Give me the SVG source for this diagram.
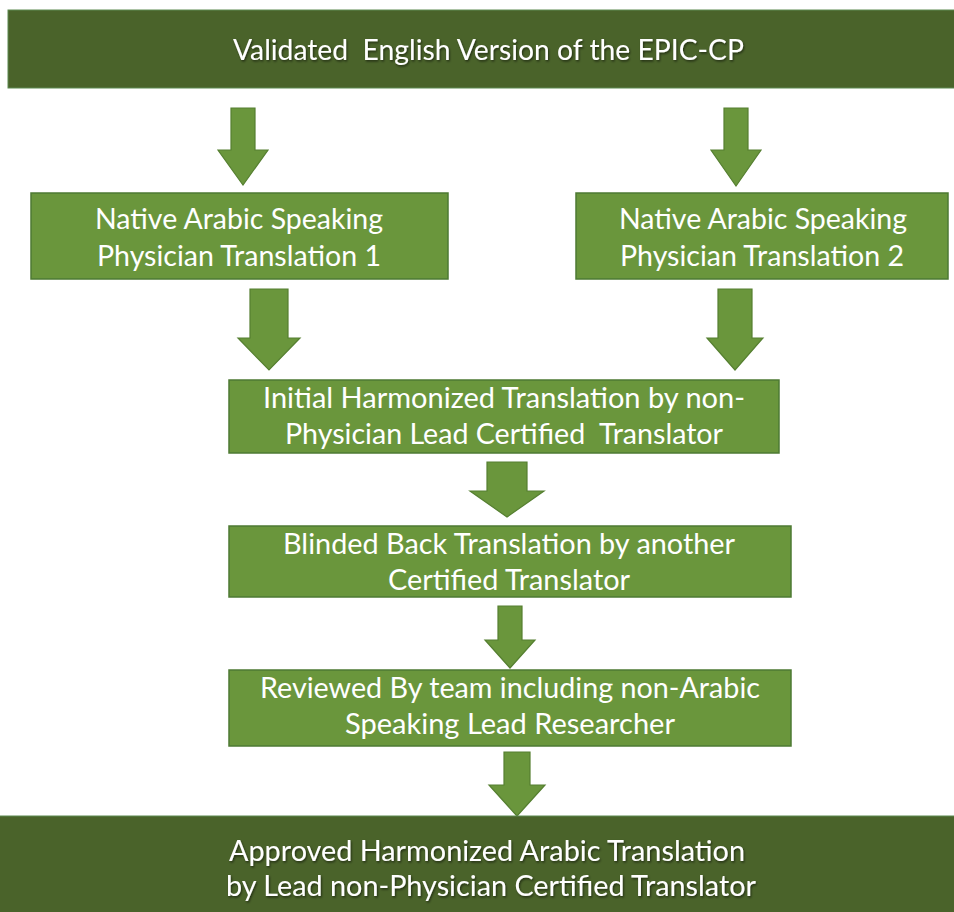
<svg xmlns="http://www.w3.org/2000/svg" width="954" height="912" viewBox="0 0 954 912">
  <defs>
    <filter id="shadow" x="-5%" y="-20%" width="110%" height="140%">
      <feDropShadow dx="1" dy="1.5" stdDeviation="0.8" flood-color="#000" flood-opacity="0.55"/>
    </filter>
  </defs>
  <style>
    .bar { fill: #4a632a; stroke: #5d8a50; stroke-width: 1; }
    .box { fill: #6a963c; stroke: #4d7a33; stroke-width: 1.5; }
    .arrow { fill: #6a963c; stroke: #557f30; stroke-width: 1.2; }
    .t { font-family: Lato, "Liberation Sans", sans-serif; font-size: 28px; fill: #ffffff; }
    .bt { filter: url(#shadow); }
  </style>
  <rect width="954" height="912" fill="#ffffff"/>

  <g id="connectors">
    <polygon class="arrow" points="231,108 255,108 255,150 268,150 243,185 218,150 231,150"/>
    <polygon class="arrow" points="724,108 748,108 748,150 761,150 736,186 711,150 724,150"/>
    <polygon class="arrow" points="250,289 288,289 288,338 300,338 269,370 238,338 250,338"/>
    <polygon class="arrow" points="718,289 752,289 752,338 763,338 735,370 707,338 718,338"/>
    <polygon class="arrow" points="487,462 527,462 527,491 544,491 507,517 470,491 487,491"/>
    <polygon class="arrow" points="498,606 522,606 522,640 535,640 510,668 485,640 498,640"/>
    <polygon class="arrow" points="504,752 530,752 530,785 545,785 517,816 489,785 504,785"/>
  </g>

  <g id="top">
    <rect class="bar" x="8" y="10" width="952" height="78"/>
    <text class="t bt" x="233" y="60" textLength="511" lengthAdjust="spacingAndGlyphs" xml:space="preserve">Validated  English Version of the EPIC-CP</text>
  </g>

  <g id="trans1">
    <rect class="box" x="31" y="193" width="417" height="86"/>
    <text class="t" x="95" y="229" textLength="288" lengthAdjust="spacingAndGlyphs">Native Arabic Speaking</text>
    <text class="t" x="97" y="266" textLength="284" lengthAdjust="spacingAndGlyphs">Physician Translation 1</text>
  </g>

  <g id="trans2">
    <rect class="box" x="576" y="193" width="372" height="86"/>
    <text class="t" x="619" y="229" textLength="288" lengthAdjust="spacingAndGlyphs">Native Arabic Speaking</text>
    <text class="t" x="620" y="266" textLength="284" lengthAdjust="spacingAndGlyphs">Physician Translation 2</text>
  </g>

  <g id="harmonized">
    <rect class="box" x="229" y="380" width="550" height="73"/>
    <text class="t" x="263" y="408" textLength="482" lengthAdjust="spacingAndGlyphs">Initial Harmonized Translation by non-</text>
    <text class="t" x="285" y="444" textLength="438" lengthAdjust="spacingAndGlyphs" xml:space="preserve">Physician Lead Certified  Translator</text>
  </g>

  <g id="backtranslation">
    <rect class="box" x="229" y="526" width="562" height="71"/>
    <text class="t" x="283" y="554" textLength="452" lengthAdjust="spacingAndGlyphs">Blinded Back Translation by another</text>
    <text class="t" x="388" y="590" textLength="242" lengthAdjust="spacingAndGlyphs">Certified Translator</text>
  </g>

  <g id="review">
    <rect class="box" x="229" y="670" width="562" height="76"/>
    <text class="t" x="260" y="698" textLength="500" lengthAdjust="spacingAndGlyphs">Reviewed By team including non-Arabic</text>
    <text class="t" x="345" y="734" textLength="330" lengthAdjust="spacingAndGlyphs">Speaking Lead Researcher</text>
  </g>

  <g id="approved">
    <rect class="bar" x="-2" y="816" width="960" height="100"/>
    <text class="t bt" x="229" y="861" textLength="516" lengthAdjust="spacingAndGlyphs">Approved Harmonized Arabic Translation</text>
    <text class="t bt" x="226" y="896" textLength="530" lengthAdjust="spacingAndGlyphs">by Lead non-Physician Certified Translator</text>
  </g>
</svg>
